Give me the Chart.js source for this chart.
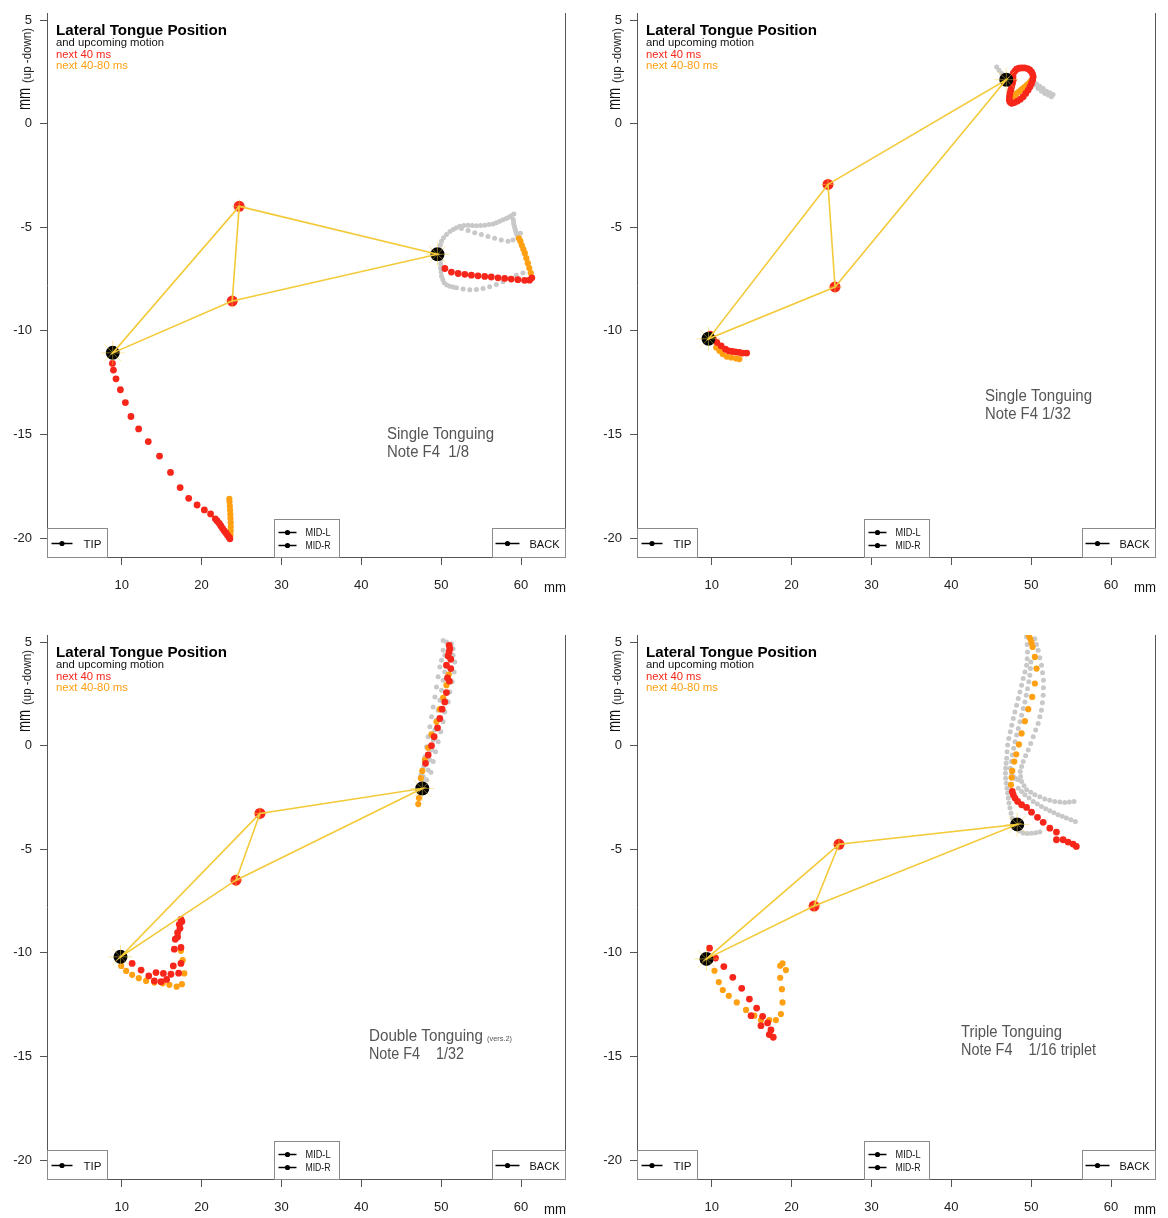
<!DOCTYPE html>
<html><head><meta charset="utf-8">
<script src="https://cdn.jsdelivr.net/npm/chart.js@4.4.0/dist/chart.umd.min.js"></script>
<style>
html,body{margin:0;padding:0;background:#fff;overflow:hidden;width:1168px;height:1218px;}
.p{position:absolute;width:578px;height:600px;}
</style></head><body>
<div class="p" style="left:0;top:0"><canvas id="c1" width="578" height="600"></canvas></div>
<div class="p" style="left:590px;top:0"><canvas id="c2" width="578" height="600"></canvas></div>
<div class="p" style="left:0;top:622px"><canvas id="c3" width="578" height="600"></canvas></div>
<div class="p" style="left:590px;top:622px"><canvas id="c4" width="578" height="600"></canvas></div>
<script>
// ---- axes ----
const xTicks = [10, 20, 30, 40, 50, 60];
const yTicks = [5, 0, -5, -10, -15, -20];
const xRange = [0.65, 65.5];
const yRange = [-20.91, 5.34];

// ---- sensors: TIP, MID-L, MID-R, BACK ----
const p1Sensors = [[8.88, -11.06], [24.71, -3.99], [23.84, -8.56], [49.53, -6.30]];
const p2Sensors = [[9.6, -10.38], [24.56, -2.93], [25.44, -7.88], [46.88, 2.12]];
const p3Sensors = [[9.85, -10.19], [27.31, -3.27], [24.31, -6.49], [47.63, -2.07]];
const p4Sensors = [[9.35, -10.29], [25.94, -4.76], [22.82, -7.74], [48.25, -3.80]];

// ---- panel 1: Single Tonguing, Note F4 1/8 ----
const p1Red = [[8.84,-11.57],[8.97,-11.89],[9.29,-12.31],[9.84,-12.84],[10.46,-13.46],[11.16,-14.13],[12.12,-14.73],[13.33,-15.34],[14.74,-16.04],[16.11,-16.83],[17.32,-17.56],[18.39,-18.08],[19.44,-18.40],[20.35,-18.64],[21.13,-18.83],[21.72,-19.07],[21.95,-19.17],[22.22,-19.29],[22.42,-19.41],[22.63,-19.53],[22.85,-19.65],[23.05,-19.75],[23.25,-19.86],[23.47,-19.97],[23.55,-20.03],
  [50.46,-6.99],[51.28,-7.16],[52.12,-7.23],[52.96,-7.27],[53.78,-7.31],[54.61,-7.34],[55.45,-7.37],[56.27,-7.40],[57.11,-7.44],[57.94,-7.47],[58.77,-7.50],[59.6,-7.53],[60.44,-7.56],[61.06,-7.55],[61.35,-7.44]];
const p1Orange = [[23.62,-19.85],[23.65,-19.65],[23.66,-19.45],[23.65,-19.25],[23.62,-19.05],[23.6,-18.85],[23.57,-18.65],[23.54,-18.45],[23.5,-18.25],[23.48,-18.1],
  [61.22,-7.21],[61.03,-6.97],[60.85,-6.73],[60.66,-6.49],[60.47,-6.25],[60.29,-6.06],[60.1,-5.87],[59.91,-5.67],[59.73,-5.53]];
const p1Grey = [[49.84,-6.07],[49.9,-5.85],[50.04,-5.67],[50.3,-5.5],[50.67,-5.35],[51.1,-5.2],[51.5,-5.11],[51.9,-5.02],[52.33,-4.95],[52.85,-4.91],[53.37,-4.90],[53.9,-4.91],[54.41,-4.92],[54.93,-4.91],[55.45,-4.90],[55.97,-4.87],[56.49,-4.84],[56.9,-4.78],[57.32,-4.71],[57.73,-4.64],[58.15,-4.58],[58.46,-4.51],[58.77,-4.44],[59.1,-4.36],
  [59.02,-4.63],[59.06,-4.75],[59.1,-4.87],[59.18,-4.99],[59.27,-5.11],[59.35,-5.22],[59.44,-5.32],
  [52.54,-5.06],[53.37,-5.16],[54.2,-5.26],[55.03,-5.35],[55.86,-5.45],[56.69,-5.53],[57.52,-5.61],[58.36,-5.67],[58.98,-5.61],[59.6,-5.48],[59.93,-5.29],
  [49.96,-6.56],[49.94,-6.76],[49.92,-6.96],[49.98,-7.16],[50.04,-7.36],[50.2,-7.52],[50.38,-7.68],[50.7,-7.78],[51.08,-7.84],[51.5,-7.88],[51.91,-7.92],[52.74,-7.98],[53.58,-8.01],[54.41,-8.0],[55.24,-7.95],[56.07,-7.87],[56.9,-7.76],[57.73,-7.63],[58.56,-7.47],[59.4,-7.31],[60.23,-7.2]];

// ---- panel 2: Single Tonguing, Note F4 1/32 ----
const p2Red = [[9.81,-10.16],[10.22,-10.40],[10.64,-10.56],[11.18,-10.72],[11.72,-10.88],[12.13,-10.96],[12.56,-10.99],[12.97,-11.01],[13.47,-11.04],[13.88,-11.07],[14.38,-11.07],
  [47.75,2.42],[47.95,2.54],[48.17,2.63],[48.48,2.68],[48.79,2.69],[49.16,2.69],[49.54,2.66],[49.82,2.59],[50.04,2.50],[50.18,2.38],[50.25,2.26],[50.18,2.10],[50.04,1.94],[49.85,1.78],[49.62,1.62],[49.32,1.46],[49.0,1.30],[48.65,1.18],[48.29,1.09],[47.9,1.02],[47.55,0.98],[47.35,1.04],[47.26,1.14],[47.28,1.30],[47.34,1.46],[47.44,1.62],[47.55,1.78],[47.65,1.94],[47.75,2.10],[47.72,2.26]];
const p2Orange = [[10.56,-10.80],[10.97,-10.96],[11.38,-11.12],[11.88,-11.24],[12.43,-11.28],[13.05,-11.33],[13.47,-11.36],
  [47.75,1.30],[47.95,1.38],[48.17,1.46],[48.45,1.54],[48.71,1.62],[48.96,1.70],[49.21,1.78],[49.46,1.86],[49.71,1.94],[49.9,2.02],[50.04,2.10]];
const p2Grey = [[45.68,2.74],[45.97,2.58],[46.3,2.42],[46.63,2.26],[47.05,2.02],[47.34,1.86],[47.55,1.62],[47.75,1.38],[48.17,1.22],
  [50.46,1.86],[50.87,1.70],[51.29,1.57],[51.7,1.46],[52.12,1.38],[52.53,1.30],[52.74,1.41],[52.33,1.49],[51.91,1.57],[51.5,1.70],[51.08,1.81],[50.67,1.92]];

// ---- panel 3: Double Tonguing (vers.2), Note F4 1/32 ----
const p3Red = [[50.99,4.84],[51.08,4.68],[50.99,4.52],[50.87,4.33],[51.2,4.17],[50.66,3.88],[51.2,3.72],[50.79,3.27],[51.03,3.11],[50.66,2.56],[50.45,2.11],[50.12,1.76],[49.83,1.31],[49.54,0.86],[49.12,0.43],[48.79,0.0],[48.37,-0.45],[48.04,-0.85],
  [11.31,-10.51],[12.43,-10.83],[13.39,-11.11],[14.30,-10.95],[15.22,-10.99],[16.17,-11.03],[17.13,-10.98],[14.09,-11.35],[14.93,-11.39],[15.63,-11.28],[16.46,-10.63],[17.42,-10.51],[16.59,-9.82],[17.42,-9.74],[16.71,-9.34],[17.0,-9.02],[17.3,-8.81],[17.21,-8.62],[17.54,-8.49],[17.42,-8.38],[17.0,-9.23]];
const p3Orange = [[50.95,3.43],[50.66,2.92],[50.25,2.31],[49.83,1.76],[49.41,1.15],[48.79,0.54],[48.37,-0.10],[47.96,-0.69],[47.63,-1.22],[47.46,-1.57],[47.34,-2.21],[47.21,-2.53],[47.13,-2.82],
  [9.94,-10.63],[10.56,-10.87],[11.31,-11.06],[12.14,-11.22],[13.06,-11.35],[14.09,-11.43],[15.13,-11.47],[15.97,-11.54],[16.88,-11.63],[17.54,-11.51],[17.84,-10.99],[17.63,-10.35],[17.42,-9.90]];
const p3Grey = [[50.24,5.08],[50.66,5.00],[51.28,4.92],[51.49,4.68],[50.24,4.60],[50.45,4.36],[51.49,4.36],[50.04,4.12],[51.70,4.04],[49.83,3.80],[50.45,3.56],[51.62,3.56],[49.62,3.32],[50.24,3.16],[51.37,3.08],[49.41,2.83],[50.04,2.67],[51.08,2.59],[49.21,2.35],[49.83,2.19],[50.87,2.11],[49.0,1.87],[49.62,1.71],[50.45,1.63],[48.79,1.39],[49.41,1.23],[50.24,1.15],[48.58,0.91],[49.21,0.75],[49.95,0.67],[48.37,0.43],[49.0,0.27],[49.62,0.19],[48.17,-0.05],[48.79,-0.21],[49.29,-0.29],[47.96,-0.53],[48.58,-0.69],[49.0,-0.77],[47.83,-1.01],[48.37,-1.17],[48.71,-1.28],[47.75,-1.49],[48.17,-1.65],[47.96,-1.89],[47.46,-1.41],[47.63,-1.73]];

// ---- panel 4: Triple Tonguing, Note F4 1/16 triplet ----
const p4Red = [[47.63,-2.21],[47.76,-2.37],[47.97,-2.53],[48.3,-2.69],[48.8,-2.85],[49.42,-2.98],[50.04,-3.21],[50.79,-3.46],[51.5,-3.70],[52.33,-3.98],[53.16,-4.17],[53.16,-4.54],[53.99,-4.54],[54.62,-4.65],[55.24,-4.75],[55.65,-4.86],
  [9.73,-9.77],[10.48,-10.25],[11.52,-10.66],[12.64,-11.18],[13.76,-11.71],[14.72,-12.23],[15.63,-12.66],[14.93,-13.03],[16.38,-13.06],[16.17,-13.51],[17.0,-13.38],[17.42,-13.72],[17.21,-13.94],[17.71,-14.07]];
const p4Orange = [[49.71,5.32],[49.88,5.16],[50.04,4.97],[50.17,4.76],[50.46,4.28],[50.67,3.72],[50.46,3.0],[50.13,2.35],[49.63,1.76],[49.21,1.18],[48.8,0.59],[48.46,0.06],[48.13,-0.42],[47.88,-0.77],[47.63,-1.22],[47.55,-1.54],[47.47,-1.89],
  [10.35,-10.86],[10.89,-11.41],[11.39,-11.79],[12.14,-12.07],[13.14,-12.39],[14.3,-12.75],[15.34,-13.03],[16.17,-13.24],[17.21,-13.24],[18.04,-13.24],[18.67,-12.95],[18.87,-12.39],[18.79,-11.75],[18.58,-11.2],[18.58,-10.62],[18.87,-10.51],[19.29,-10.83]];
const p4Grey = [[49.42,5.24],[49.5,4.88],[49.54,4.52],[49.5,4.2],[49.42,3.88],[49.22,3.56],[49.0,3.24],[48.8,2.92],[48.59,2.59],[48.38,2.27],[48.17,1.95],[47.96,1.63],[47.76,1.31],[47.56,0.99],[47.38,0.67],[47.2,0.35],[47.05,0.03],[46.98,-0.29],[46.93,-0.61],[46.86,-0.85],[46.8,-1.09],[46.78,-1.33],[46.8,-1.57],[46.88,-1.81],[46.97,-2.05],[47.05,-2.29],[47.13,-2.53],[47.22,-2.77],[47.34,-3.01],[47.48,-3.26],[47.63,-3.50],[47.88,-3.75],[48.17,-3.98],[48.58,-4.12],[49.0,-4.22],[49.52,-4.24],[50.04,-4.23],[50.56,-4.2],[51.08,-4.17],
  [50.46,5.16],[50.66,4.88],[50.87,4.60],[51.08,4.24],[51.29,3.88],[51.42,3.52],[51.54,3.16],[51.53,2.8],[51.5,2.43],[51.4,2.07],[51.29,1.71],[51.08,1.39],[50.87,1.07],[50.56,0.75],[50.25,0.43],[49.94,0.11],[49.63,-0.21],[49.3,-0.49],[49.0,-0.77],[48.8,-1.01],[48.63,-1.25],[48.68,-1.49],[48.8,-1.73],[49.1,-1.93],[49.42,-2.13],[49.94,-2.25],[50.46,-2.37],[51.08,-2.47],[51.7,-2.57],[52.32,-2.63],[52.95,-2.69],[53.58,-2.72],[54.2,-2.74],[54.78,-2.72],[55.36,-2.69],
  [49.96,4.04],[49.9,3.72],[49.83,3.40],[49.7,3.08],[49.54,2.75],[49.38,2.43],[49.21,2.11],[49.0,1.79],[48.8,1.47],[48.6,1.15],[48.38,0.83],[48.18,0.51],[47.97,0.19],[47.8,-0.13],[47.63,-0.45],[47.5,-0.77],[47.38,-1.09],[47.55,-1.32],[47.76,-1.49],[48.07,-1.58],[48.38,-1.65],
  [48.38,-2.05],[48.8,-2.21],[49.21,-2.37],[49.73,-2.53],[50.25,-2.69],[50.77,-2.81],[51.29,-2.93],[51.81,-3.04],[52.33,-3.14],[52.85,-3.24],[53.37,-3.33],[53.89,-3.41],[54.41,-3.49],[54.97,-3.58],[55.53,-3.66]];

// ---- texts ----
const titleLines = ['Lateral Tongue Position', 'and upcoming motion', 'next 40 ms', 'next 40-80 ms'];
const noteLines1 = ['Single Tonguing', 'Note F4  1/8'];
const noteLines2 = ['Single Tonguing', 'Note F4 1/32'];
const noteLines3 = ['Double Tonguing', 'Note F4    1/32'];
const noteLines4 = ['Triple Tonguing', 'Note F4    1/16 triplet'];

// ---- style ----
const RED = '#F7261A', ORANGE = '#FFA012', GREY = '#C8C8C8', GOLD = '#F3CA3A', AXIS = '#555555';
const SANS = '"Liberation Sans", Arial, sans-serif';
Chart.defaults.font.family = SANS;

const pts = a => a.map(p => ({x: p[0], y: p[1]}));

function txt(ctx, s, x, y, font, color, w) {
  ctx.save();
  ctx.font = font; ctx.fillStyle = color; ctx.textAlign = 'left'; ctx.textBaseline = 'alphabetic';
  const m = ctx.measureText(s).width;
  const k = w ? w / m : 1;
  ctx.translate(x, y); ctx.scale(k, 1); ctx.fillText(s, 0, 0);
  ctx.restore();
  return m * k;
}

function legendLine(ctx, x1, x2, y) {
  ctx.strokeStyle = '#000'; ctx.lineWidth = 1.5;
  ctx.beginPath(); ctx.moveTo(x1, y); ctx.lineTo(x2, y); ctx.stroke();
  ctx.fillStyle = '#000'; ctx.beginPath(); ctx.arc((x1 + x2) / 2, y, 2.6, 0, Math.PI * 2); ctx.fill();
}

const decor = {
  id: 'decor',
  afterDraw(chart, args, o) {
    const ctx = chart.ctx, ca = chart.chartArea;
    ctx.save();
    ctx.strokeStyle = AXIS; ctx.lineWidth = 1;
    const rx = Math.round(ca.right) + 0.5;
    ctx.beginPath(); ctx.moveTo(rx, ca.top); ctx.lineTo(rx, ca.bottom); ctx.stroke();
    // y axis title
    ctx.save();
    ctx.translate(30, 110); ctx.rotate(-Math.PI / 2);
    const w1 = txt(ctx, 'mm', 0, 0, '18px ' + SANS, '#111', 22);
    txt(ctx, '(up -down)', w1 + 5, 1, '12px ' + SANS, '#222', 55);
    ctx.restore();
    // x axis unit
    txt(ctx, 'mm', ca.right - 21, ca.bottom + 35, '15px ' + SANS, '#111', 22);
    // title block
    txt(ctx, titleLines[0], 56, 35, 'bold 15px ' + SANS, '#000', 171);
    txt(ctx, titleLines[1], 56, 46, '11px ' + SANS, '#111', 108);
    txt(ctx, titleLines[2], 56, 58, '11px ' + SANS, RED, 55);
    txt(ctx, titleLines[3], 56, 69, '11px ' + SANS, ORANGE, 72);
    // annotation
    const n = o.note;
    txt(ctx, n.lines[0], n.x, n.y, '16px ' + SANS, '#555', n.w[0]);
    if (n.small) txt(ctx, n.small, n.x + n.w[0] + 4, n.y, '7px ' + SANS, '#555', 25);
    txt(ctx, n.lines[1], n.x, n.y + 18, '16px ' + SANS, '#555', n.w[1]);
    // legends
    ctx.strokeStyle = '#8a8a8a'; ctx.lineWidth = 1; ctx.fillStyle = '#fff';
    const b = Math.round(ca.bottom) + 0.5, l = Math.round(ca.left) + 0.5;
    ctx.fillRect(l, b - 29, 60, 29); ctx.strokeRect(l, b - 29, 60, 29);
    legendLine(ctx, l + 4, l + 25, b - 14);
    txt(ctx, 'TIP', l + 36, b - 10, '11px ' + SANS, '#111', 18);
    ctx.fillStyle = '#fff'; ctx.strokeStyle = '#8a8a8a'; ctx.lineWidth = 1;
    ctx.fillRect(l + 227, b - 38, 65, 38); ctx.strokeRect(l + 227, b - 38, 65, 38);
    legendLine(ctx, l + 231, l + 249, b - 25);
    legendLine(ctx, l + 231, l + 249, b - 12);
    txt(ctx, 'MID-L', l + 258, b - 21.5, '10px ' + SANS, '#111', 25);
    txt(ctx, 'MID-R', l + 258, b - 8.5, '10px ' + SANS, '#111', 25);
    ctx.fillStyle = '#fff'; ctx.strokeStyle = '#8a8a8a'; ctx.lineWidth = 1;
    ctx.fillRect(rx - 73, b - 29, 73, 29); ctx.strokeRect(rx - 73, b - 29, 73, 29);
    legendLine(ctx, rx - 70, rx - 46, b - 14);
    txt(ctx, 'BACK', rx - 36, b - 10, '11px ' + SANS, '#111', 30);
    ctx.restore();
  }
};

function makeChart(id, sensors, red, orange, grey, note) {
  const [tip, midL, midR, back] = sensors;
  const path = [midL, tip, midR, back, midL, midR];
  const datasets = [
    {type: 'line', data: pts(path), borderColor: GOLD, borderWidth: 1.6, pointRadius: 0, fill: false, tension: 0, order: 0},
    {data: pts([tip, back]), pointStyle: 'star', pointRadius: 12, borderColor: 'rgba(243,210,70,0.5)', borderWidth: 1, backgroundColor: 'transparent', order: 0},
    {data: pts([midL, midR]), pointStyle: 'cross', pointRadius: 7, borderColor: 'rgba(243,210,70,0.5)', borderWidth: 1, backgroundColor: 'transparent', order: 0},
    {data: pts([tip, back]), pointRadius: 7, backgroundColor: '#000', borderWidth: 0, order: 1},
    {data: pts([midL, midR]), pointRadius: 5.5, backgroundColor: RED, borderWidth: 0, order: 1},
    {data: pts(red), pointRadius: 3.4, backgroundColor: RED, borderWidth: 0, order: 2},
    {data: pts(orange), pointRadius: 3.1, backgroundColor: ORANGE, borderWidth: 0, order: 3},
    {data: pts(grey), pointRadius: 2.5, backgroundColor: GREY, borderWidth: 0, order: 4}
  ];
  const axisCommon = {
    type: 'linear',
    grid: {drawOnChartArea: false, drawTicks: true, color: AXIS, tickColor: AXIS},
    border: {display: true, color: AXIS, width: 1},
    ticks: {color: '#222', font: {size: 13, family: SANS}, autoSkip: false, maxRotation: 0}
  };
  new Chart(document.getElementById(id), {
    type: 'scatter',
    data: {datasets},
    options: {
      responsive: false, animation: false, events: [],
      layout: {padding: {top: 3, right: 11, bottom: 0, left: 0}},
      plugins: {legend: {display: false}, tooltip: {enabled: false}, decor: {note}},
      scales: {
        x: Object.assign({}, axisCommon, {
          min: xRange[0], max: xRange[1],
          grid: Object.assign({}, axisCommon.grid, {tickLength: 8}),
          ticks: Object.assign({}, axisCommon.ticks, {padding: 13}),
          afterBuildTicks: s => { s.ticks = xTicks.map(v => ({value: v})); },
          afterFit: s => { s.height = 43; s.paddingLeft = 0; s.paddingRight = 0; }
        }),
        y: Object.assign({}, axisCommon, {
          min: yRange[0], max: yRange[1],
          grid: Object.assign({}, axisCommon.grid, {tickLength: 7}),
          ticks: Object.assign({}, axisCommon.ticks, {padding: 8}),
          afterBuildTicks: s => { s.ticks = yTicks.map(v => ({value: v})); },
          afterFit: s => { s.width = 47; s.paddingTop = 0; s.paddingBottom = 0; }
        })
      }
    },
    plugins: [decor]
  });
}

makeChart('c1', p1Sensors, p1Red, p1Orange, p1Grey, {lines: noteLines1, x: 387, y: 439, w: [107, 82]});
makeChart('c2', p2Sensors, p2Red, p2Orange, p2Grey, {lines: noteLines2, x: 395, y: 401, w: [107, 86]});
makeChart('c3', p3Sensors, p3Red, p3Orange, p3Grey, {lines: noteLines3, x: 369, y: 419, w: [114, 95], small: '(vers.2)'});
makeChart('c4', p4Sensors, p4Red, p4Orange, p4Grey, {lines: noteLines4, x: 371, y: 415, w: [101, 135]});
</script>
</body></html>
